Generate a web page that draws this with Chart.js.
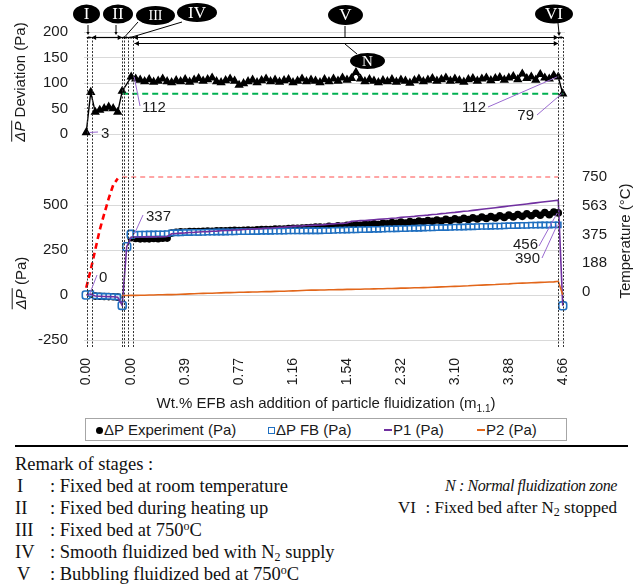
<!DOCTYPE html>
<html>
<head>
<meta charset="utf-8">
<script src="https://cdn.jsdelivr.net/npm/chart.js@4/dist/chart.umd.min.js"></script>
<style>
  html, body { margin: 0; padding: 0; background: #fff; }
  body { width: 634px; height: 586px; position: relative; overflow: hidden;
         font-family: "Liberation Sans", Arial, sans-serif; color: #1a1a1a; }
  #c { position: absolute; left: 0; top: 0; }
  #legend { position: absolute; left: 85px; top: 418px; width: 482px; height: 23px;
            border: 1px solid #a6a6a6; box-sizing: border-box; font-size: 15px; }
  #legend .it { position: absolute; top: 1px; white-space: nowrap; line-height: 19px; }
  .mk { display: inline-block; vertical-align: middle; margin-right: 1px; position: relative; top: -1px; }
  .mk.dot { width: 7px; height: 7px; border-radius: 50%; background: #000; }
  .mk.sq { width: 5px; height: 5px; border: 1.5px solid #1f6fc0; background: #fff; }
  .mk.ln { width: 8px; height: 2px; }
  #rule { position: absolute; left: 15px; top: 445px; width: 613px; height: 2px; background: #000; }
  .rm { position: absolute; font-family: "Liberation Serif", "Times New Roman", serif;
        font-size: 18.5px; line-height: 20px; white-space: nowrap; color: #111; }
  .rm sub { font-size: 12px; vertical-align: -3px; line-height: 0; }
  .rm sup { font-size: 12px; vertical-align: 6px; line-height: 0; }
  .it2 { font-style: italic; font-size: 16px; letter-spacing: -0.4px; }
  .sm { font-size: 17px; }
</style>
</head>
<body>
<canvas id="c" width="634" height="416"></canvas>

<div id="legend">
  <span class="it" style="left:10px"><span class="mk dot"></span>ΔP Experiment (Pa)</span>
  <span class="it" style="left:182px"><span class="mk sq"></span>ΔP FB (Pa)</span>
  <span class="it" style="left:298px"><span class="mk ln" style="background:#7030a0"></span>P1 (Pa)</span>
  <span class="it" style="left:391px"><span class="mk ln" style="background:#e2661a"></span>P2 (Pa)</span>
</div>
<div id="rule"></div>

<div class="rm" style="left:15px;top:454px">Remark of stages :</div>
<div class="rm" style="left:17px;top:476px">I</div>
<div class="rm" style="left:50px;top:476px">: Fixed bed at room temperature</div>
<div class="rm" style="left:15px;top:498px">II</div>
<div class="rm" style="left:50px;top:498px">: Fixed bed during heating up</div>
<div class="rm" style="left:15px;top:520px">III</div>
<div class="rm" style="left:50px;top:520px">: Fixed bed at 750<sup>o</sup>C</div>
<div class="rm" style="left:15px;top:542px">IV</div>
<div class="rm" style="left:50px;top:542px">: Smooth fluidized bed with N<sub>2</sub> supply</div>
<div class="rm" style="left:17px;top:564px">V</div>
<div class="rm" style="left:50px;top:564px">: Bubbling fluidized bed at 750<sup>o</sup>C</div>
<div class="rm it2" style="right:17px;top:476px">N : Normal fluidization zone</div>
<div class="rm sm" style="left:398px;top:498px">VI</div>
<div class="rm sm" style="right:17px;top:498px">: Fixed bed after N<sub>2</sub> stopped</div>

<script>
// Wt.% EFB ash added at each recorded step (category axis)
const wtPct = [
  0.00, 0.00, 0.00, 0.00, 0.00, 0.00, 0.00, 0.00, 0.00, 0.00, 0.00,
  0.03, 0.06, 0.10, 0.13, 0.16, 0.19, 0.23, 0.26, 0.29, 0.32, 0.36, 0.39,
  0.42, 0.45, 0.48, 0.52, 0.55, 0.58, 0.61, 0.64, 0.68, 0.71, 0.74, 0.77,
  0.80, 0.84, 0.87, 0.90, 0.93, 0.97, 1.00, 1.03, 1.06, 1.09, 1.13, 1.16,
  1.19, 1.22, 1.26, 1.29, 1.32, 1.35, 1.38, 1.42, 1.45, 1.48, 1.51, 1.54,
  1.61, 1.67, 1.74, 1.80, 1.87, 1.93, 2.00, 2.06, 2.13, 2.19, 2.26, 2.32,
  2.39, 2.45, 2.52, 2.58, 2.65, 2.71, 2.78, 2.84, 2.91, 2.97, 3.04, 3.10,
  3.17, 3.23, 3.30, 3.36, 3.43, 3.49, 3.56, 3.62, 3.69, 3.75, 3.82, 3.88,
  3.95, 4.01, 4.08, 4.14, 4.21, 4.27, 4.34, 4.40, 4.47, 4.53, 4.60, 4.66
];
// Steps whose wt.% value is printed under the axis
const shownTickIdx = [0, 10, 22, 34, 46, 58, 70, 82, 94, 106];

// Pressure-drop deviation (Pa), upper panel
const devPa = [
  3, 82, 43, 47, 50, 53, 50, 43, 84, null,
  112, 108, 106, 103, 107, 102, 104, 108, 103, 101,
  105, 103, 107, 102, 106, 109, 104, 107, 110, 103,
  101, 105, 108, 104, 96, 99, 103, 106, 101, 105,
  108, 103, 106, 102, 105, 107, 101, 104, 108, 103,
  106, 104, 101, 107, 103, 108, 104, 110, 106, 109,
  121, 108, 103, 107, 104, 101, 105, 103, 107, 102,
  106, 104, 100, 105, 108, 103, 106, 109, 104, 107,
  110, 104, 108, 105, 102, 107, 109, 104, 108, 110,
  105, 109, 111, 106, 110, 113, 107, 118, 109, 112,
  106, 117, 110, 108, 115, 112, 79
];
// Deviation reference level (Pa) and the step it starts from
const devRefLevel = 79;
const devRefFrom = 8;

// Bed pressure drop, experiment (Pa)
const dpExp = [
  0, 5, -6, -7, -8, -9, -10, -12, -58, 268,
  318, 314, 312, 313, 312, 314, 313, 315, 316, 344,
  349, 351, 350, 352, 353, 352, 354, 355, 354, 356,
  357, 356, 358, 359, 358, 360, 361, 360, 362, 363,
  364, 363, 366, 367, 366, 369, 370, 371, 372, 374,
  375, 377, 378, 376, 381, 379, 384, 382, 387, 384,
  390, 387, 393, 390, 396, 392, 399, 395, 402, 398,
  405, 400, 408, 403, 411, 406, 414, 409, 417, 411,
  420, 414, 423, 417, 426, 419, 429, 422, 433, 425,
  436, 428, 440, 431, 444, 434, 447, 437, 451, 440,
  454, 443, 458, 446, 461, 456, -60
];
// Bed pressure drop, fluidized-bed estimate (Pa)
const dpFB = [
  0, 8, -5, -6, -7, -8, -9, -11, -58, 268,
  337, 337, 338, 338, 339, 339, 340, 340, 341, 345,
  346, 346, 347, 347, 348, 348, 348, 349, 349, 350,
  350, 350, 351, 351, 352, 352, 352, 353, 353, 354,
  354, 354, 355, 355, 355, 356, 356, 356, 356, 357,
  357, 357, 357, 358, 358, 359, 360, 360, 361, 362,
  362, 363, 363, 364, 365, 365, 366, 367, 367, 368,
  369, 369, 370, 371, 371, 372, 373, 373, 374, 375,
  375, 376, 377, 377, 378, 379, 379, 380, 381, 381,
  382, 383, 383, 384, 385, 385, 386, 387, 387, 388,
  388, 389, 389, 389, 390, 390, -60
];
// Pressure at tap P1 (Pa)
const p1Pa = [
  0, 5, -6, -7, -8, -9, -10, -12, -58, 268,
  322, 322, 322, 323, 323, 323, 324, 324, 325, 340,
  342, 344, 345, 347, 348, 350, 351, 352, 354, 355,
  357, 358, 359, 361, 362, 364, 365, 366, 368, 369,
  371, 372, 374, 376, 377, 379, 381, 383, 384, 386,
  387, 388, 389, 391, 393, 395, 397, 398, 400, 409,
  411, 413, 414, 416, 418, 420, 422, 424, 426, 428,
  431, 433, 435, 437, 440, 442, 444, 447, 449, 452,
  454, 457, 459, 462, 465, 467, 470, 473, 476, 479,
  482, 485, 488, 491, 494, 497, 500, 503, 506, 509,
  512, 515, 518, 521, 524, 527, -60
];
// Pressure at tap P2 (Pa)
const p2Pa = [
  null, null, null, null, null, null, null, null, -3, -3,
  -2, -2, -1, -1, 0, 0, 1, 1, 2, 2,
  3, 4, 5, 6, 7, 8, 9, 10, 10, 11,
  12, 13, 13, 14, 15, 15, 16, 17, 17, 18,
  19, 19, 20, 21, 21, 22, 23, 24, 25, 26,
  27, 27, 28, 28, 29, 29, 30, 30, 31, 31,
  32, 32, 33, 33, 34, 35, 35, 36, 36, 37,
  38, 38, 39, 40, 40, 41, 42, 43, 44, 45,
  46, 47, 48, 49, 50, 51, 53, 54, 55, 56,
  57, 58, 60, 61, 62, 64, 65, 66, 67, 68,
  69, 70, 71, 72, 73, 76, 2
];
// Bed temperature (°C): heating ramp, then held until N2 is stopped
const tempRampC = [28, 145, 275, 405, 510, 610, 698, 740];
const tempHoldC = 750;
const tempHoldEnd = 105;

// Axis ticks
const devTicks = [0, 50, 100, 150, 200];
const dpTicks = [-250, 0, 250, 500];
const tempTicks = [0, 187.5, 375, 562.5, 750];
const tempTickLabels = ['0', '188', '375', '563', '750'];

// Stage boundaries and callout tags (positions in step units)
const stageEdges = [0.1, 1.2, 8.0, 8.5, 9.35, 10.5, 105.0, 106.1];
const stageNames = ['I', 'II', 'III', 'IV', 'V', 'VI'];

const devRef = wtPct.map((_, i) => (i >= devRefFrom ? devRefLevel : null));
const tempC = wtPct.map((_, i) =>
  i < tempRampC.length ? tempRampC[i] : (i <= tempHoldEnd ? tempHoldC : null));

const FONT = '"Liberation Sans", Arial, sans-serif';
const SERIF = '"Liberation Serif", "Times New Roman", serif';
Chart.defaults.font.family = FONT;
Chart.defaults.font.size = 15;
Chart.defaults.color = '#1a1a1a';

const fbBig = [0, 8, 9, 10, 106];

function line(ctx, x1, y1, x2, y2) {
  ctx.beginPath(); ctx.moveTo(x1, y1); ctx.lineTo(x2, y2); ctx.stroke();
}
function head(ctx, x, y, ang, h) {
  ctx.save(); ctx.translate(x, y); ctx.rotate(ang);
  ctx.beginPath(); ctx.moveTo(0, 0); ctx.lineTo(-h, -h * 0.55); ctx.lineTo(-h, h * 0.55);
  ctx.closePath(); ctx.fill(); ctx.restore();
}
function hArrow(ctx, x1, x2, y) {
  line(ctx, x1, y, x2, y);
  const h = Math.min(4.5, (x2 - x1) / 2.2);
  head(ctx, x1, y, Math.PI, h);
  head(ctx, x2, y, 0, h);
}
function tag(ctx, text, cx, cy, rx, ry, fs) {
  ctx.fillStyle = '#000';
  ctx.beginPath(); ctx.ellipse(cx, cy, rx, ry, 0, 0, Math.PI * 2); ctx.fill();
  ctx.fillStyle = '#fff';
  ctx.font = fs + 'px ' + SERIF;
  ctx.textAlign = 'center'; ctx.textBaseline = 'middle';
  ctx.fillText(text, cx, cy + 1);
}
function dpTitle(ctx, cx, cy, rest) {
  const fs = 15;
  ctx.save();
  ctx.translate(cx, cy); ctx.rotate(-Math.PI / 2);
  const fi = 'italic ' + fs + 'px ' + FONT, fn = fs + 'px ' + FONT;
  ctx.font = fi; const w1 = ctx.measureText('ΔP').width;
  ctx.font = fn; const w2 = ctx.measureText(rest).width;
  const x0 = -(w1 + w2) / 2;
  ctx.fillStyle = '#1a1a1a'; ctx.textAlign = 'left'; ctx.textBaseline = 'middle';
  ctx.font = fi; ctx.fillText('ΔP', x0, 0);
  ctx.font = fn; ctx.fillText(rest, x0 + w1, 0);
  ctx.strokeStyle = '#1a1a1a'; ctx.lineWidth = 1;
  line(ctx, x0, -fs * 0.62, x0 + w1 + 1, -fs * 0.62);
  ctx.restore();
}

const annotations = {
  id: 'stageAnnotations',
  afterDraw(chart) {
    const { ctx } = chart;
    const x = chart.scales.x, yDev = chart.scales.yDev, yDP = chart.scales.yDP;
    const px = v => x.getPixelForValue(v);
    ctx.save();

    // stage boundaries
    ctx.strokeStyle = '#333'; ctx.lineWidth = 1; ctx.setLineDash([2, 1.5]);
    stageEdges.forEach(e => { const xx = Math.round(px(e)) + 0.5; line(ctx, xx, 37, xx, 347); });
    ctx.setLineDash([]);

    // stage brackets
    ctx.strokeStyle = '#000'; ctx.fillStyle = '#000'; ctx.lineWidth = 1.2;
    const spans = [[0, 1], [1, 2], [2, 4], [4, 5], [5, 6], [6, 7]];
    spans.forEach(([a, b]) => hArrow(ctx, px(stageEdges[a]), px(stageEdges[b]), 37.5));
    hArrow(ctx, px(stageEdges[5]) + 1, px(stageEdges[6]), 43.5);

    // leaders from tags to brackets
    ctx.lineWidth = 1;
    line(ctx, 88, 25, 88, 33); head(ctx, 88, 35, Math.PI / 2, 3);
    line(ctx, 116, 25, 116, 33); head(ctx, 116, 35, Math.PI / 2, 3);
    line(ctx, 138, 22, 125.5, 36);
    line(ctx, 182, 22, 132, 37);
    line(ctx, 345, 26, 345, 37);
    line(ctx, 558, 23, 559, 33); head(ctx, 559, 36, Math.PI / 2, 3.5);
    line(ctx, 345, 44, 357, 54);

    tag(ctx, stageNames[0], 86.5, 14, 13.5, 9.5, 17);
    tag(ctx, stageNames[1], 118, 14, 15, 9.5, 17);
    tag(ctx, stageNames[2], 155.5, 15.5, 19.5, 9.5, 14);
    tag(ctx, stageNames[3], 197, 12.5, 20, 9.5, 17);
    tag(ctx, stageNames[4], 345.5, 15, 17.5, 10, 17);
    tag(ctx, 'N', 367.5, 61, 17.5, 8, 15);
    tag(ctx, stageNames[5], 554, 14, 19, 9.5, 17);

    // value callouts
    ctx.strokeStyle = '#9a6ad0'; ctx.lineWidth = 1;
    ctx.fillStyle = '#1a1a1a'; ctx.font = '15px ' + FONT; ctx.textBaseline = 'middle';
    const callout = (i, v, yScale, lx, ly, tx, ty, align) => {
      const ax = px(i), ay = yScale.getPixelForValue(v);
      line(ctx, ax + (lx > ax ? 3 : -1), ay, lx, ly);
      ctx.textAlign = align;
      ctx.fillText(String(v), tx, ty);
    };
    callout(0, devPa[0], yDev, 98, 132, 101, 134, 'left');
    callout(10, devPa[10], yDev, 140, 106, 142, 108, 'left');
    callout(105, devPa[105], yDev, 488, 107, 486, 108, 'right');
    callout(106, devPa[106], yDev, 537, 115, 534, 116, 'right');
    callout(0, dpFB[0], yDP, 97, 275, 99, 278, 'left');
    callout(10, dpFB[10], yDP, 143, 215, 146, 217, 'left');
    callout(105, dpExp[105], yDP, 539, 246, 538, 245, 'right');
    callout(105, dpFB[105], yDP, 542, 258, 540, 259, 'right');

    // axis titles
    dpTitle(ctx, 21, 82, ' Deviation (Pa)');
    dpTitle(ctx, 21.5, 283, ' (Pa)');
    ctx.save();
    ctx.translate(626, 241); ctx.rotate(-Math.PI / 2);
    ctx.fillStyle = '#1a1a1a'; ctx.font = '15px ' + FONT;
    ctx.textAlign = 'center'; ctx.textBaseline = 'middle';
    ctx.fillText('Temperature (°C)', 0, 0);
    ctx.restore();

    const t1 = 'Wt.% EFB ash addition of particle fluidization (m', t2 = '1.1', t3 = ')';
    ctx.font = '15px ' + FONT; const w1 = ctx.measureText(t1).width, w3 = ctx.measureText(t3).width;
    ctx.font = '10px ' + FONT; const w2 = ctx.measureText(t2).width;
    let sx = 326 - (w1 + w2 + w3) / 2;
    ctx.textAlign = 'left'; ctx.fillStyle = '#1a1a1a';
    ctx.font = '15px ' + FONT; ctx.fillText(t1, sx, 404);
    ctx.font = '10px ' + FONT; ctx.fillText(t2, sx + w1, 409);
    ctx.font = '15px ' + FONT; ctx.fillText(t3, sx + w1 + w2, 404);

    ctx.restore();
  }
};

const gridColor = '#d9d9d9';
const setTicks = vals => scale => { scale.ticks = vals.map(v => ({ value: v })); };

new Chart(document.getElementById('c'), {
  type: 'line',
  data: {
    labels: wtPct.map(v => v.toFixed(2)),
    datasets: [
      { label: 'ΔP Experiment (Pa)', data: dpExp, yAxisID: 'yDP', showLine: false,
        pointStyle: 'circle', pointRadius: 3.8, backgroundColor: '#000', borderColor: '#000',
        pointBorderWidth: 0, order: 6 },
      { label: 'ΔP FB (Pa)', data: dpFB, yAxisID: 'yDP', showLine: false,
        pointStyle: dpFB.map((_, i) => fbBig.includes(i) ? 'rectRounded' : 'rect'),
        pointRadius: dpFB.map((_, i) => fbBig.includes(i) ? 4.6 : 3.7),
        backgroundColor: '#fff', borderColor: '#1f6fc0', pointBorderWidth: 1.6, order: 5 },
      { label: 'P1 (Pa)', data: p1Pa, yAxisID: 'yDP', borderColor: '#7030a0',
        borderWidth: 1.6, pointRadius: 0, order: 4 },
      { label: 'P2 (Pa)', data: p2Pa, yAxisID: 'yDP', borderColor: '#e2661a',
        borderWidth: 1.6, pointRadius: 0, order: 3 },
      { label: 'Temperature', data: tempC, yAxisID: 'yT', pointRadius: 0, borderColor: '#ff0000',
        borderWidth: 1.2, order: 2,
        segment: {
          borderColor: c => c.p0DataIndex === tempRampC.length - 1 ? 'rgba(0,0,0,0)'
            : (c.p0DataIndex < tempRampC.length ? '#ff0000' : '#ff4d4d'),
          borderWidth: c => c.p0DataIndex < tempRampC.length ? 2.6 : 1.1,
          borderDash: c => c.p0DataIndex < tempRampC.length ? [6, 4] : [5, 4]
        } },
      { label: 'Deviation', data: devPa, yAxisID: 'yDev', borderColor: '#000', borderWidth: 1.4,
        pointStyle: 'triangle', pointRadius: 4, backgroundColor: '#000', pointBorderColor: '#000',
        spanGaps: true, order: 1 },
      { label: 'Reference', data: devRef, yAxisID: 'yDev', borderColor: '#00b050', borderWidth: 2,
        borderDash: [6, 4], pointRadius: 0, order: 0 }
    ]
  },
  options: {
    responsive: false,
    animation: false,
    devicePixelRatio: 1,
    layout: { padding: { top: 32, left: 0, right: 0, bottom: 0 } },
    plugins: { legend: { display: false }, tooltip: { enabled: false } },
    scales: {
      x: {
        type: 'category', offset: true,
        grid: { display: false }, border: { display: false },
        ticks: {
          autoSkip: false, minRotation: 90, maxRotation: 90, padding: 10, color: '#1a1a1a',
          font: { size: 14 },
          callback(value, index) { return shownTickIdx.includes(index) ? this.getLabelForValue(value) : ''; }
        },
        afterFit(s) { s.height = 76; }
      },
      yDev: {
        type: 'linear', position: 'left', stack: 'L', stackWeight: 137, weight: 2,
        min: -68.6, max: 200,
        afterBuildTicks: setTicks(devTicks),
        grid: { color: gridColor, drawTicks: false }, border: { display: false },
        ticks: { padding: 16, color: '#1a1a1a' },
        afterFit(s) { s.width = 84; }
      },
      yDP: {
        type: 'linear', position: 'left', stack: 'L', stackWeight: 171, weight: 1,
        min: -250, max: 700,
        afterBuildTicks: setTicks(dpTicks),
        grid: { color: gridColor, drawTicks: false }, border: { display: false },
        ticks: { padding: 16, color: '#1a1a1a' },
        afterFit(s) { s.width = 84; }
      },
      yR0: {
        type: 'linear', position: 'right', stack: 'R', stackWeight: 137, weight: 1,
        ticks: { display: false }, grid: { display: false }, border: { display: false },
        afterFit(s) { s.width = 69; }
      },
      yT: {
        type: 'linear', position: 'right', stack: 'R', stackWeight: 171, weight: 2,
        min: -313, max: 802,
        afterBuildTicks: setTicks(tempTicks),
        grid: { display: false, drawTicks: false }, border: { display: false },
        ticks: { padding: 17, color: '#1a1a1a', callback: (v, i) => tempTickLabels[i] },
        afterFit(s) { s.width = 69; }
      }
    }
  },
  plugins: [annotations]
});
</script>
</body>
</html>
